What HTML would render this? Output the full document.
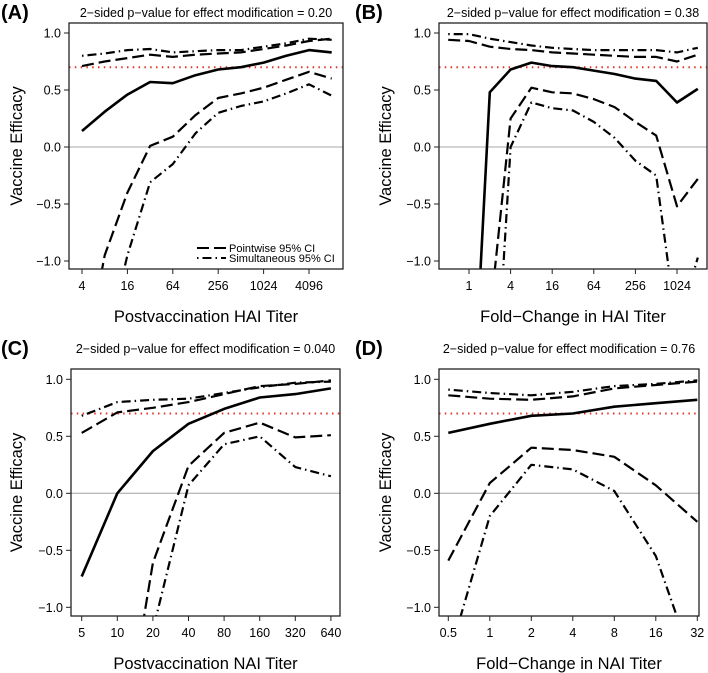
<!DOCTYPE html>
<html><head><meta charset="utf-8"><style>
body{margin:0;background:#fff;overflow:hidden;}
svg{display:block;font-family:"Liberation Sans",Arial,sans-serif;}
</style></head><body>
<svg id="chart" width="708" height="673" viewBox="0 0 708 673" xmlns="http://www.w3.org/2000/svg"></svg>
<script>
// Panel A: Postvaccination HAI titer (log2 x)
const aX = [2,3,4,5,6,7,8,9,10,11,12,13];
const aEst = [0.14,0.31,0.46,0.57,0.56,0.63,0.68,0.70,0.74,0.80,0.85,0.83];
const aUpPw = [0.71,0.75,0.78,0.81,0.79,0.81,0.82,0.83,0.86,0.89,0.93,0.95];
const aUpSim = [0.80,0.82,0.85,0.86,0.83,0.84,0.85,0.85,0.88,0.91,0.95,0.94];
const aLoPw = [-2.0,-0.95,-0.40,0.01,0.09,0.28,0.43,0.47,0.52,0.59,0.66,0.60];
const aLoSim = [-2.5,-1.8,-0.95,-0.31,-0.15,0.12,0.30,0.36,0.40,0.47,0.55,0.45];
const aTicks = ["4","16","64","256","1024","4096"];
const aTickPos = [2,4,6,8,10,12];
// Panel B: Fold-change HAI
const bX = [-1,0,1,2,3,4,5,6,7,8,9,10,11];
const bEst = [-4,-3,0.48,0.68,0.74,0.71,0.70,0.67,0.64,0.60,0.58,0.39,0.51];
const bUpPw = [0.94,0.93,0.88,0.86,0.85,0.83,0.82,0.81,0.80,0.79,0.79,0.75,0.81];
const bUpSim = [0.99,0.99,0.95,0.92,0.89,0.87,0.86,0.85,0.85,0.85,0.85,0.83,0.87];
const bLoPw = [-6,-5,-1.5,0.25,0.52,0.48,0.47,0.42,0.35,0.22,0.10,-0.52,-0.28];
const bLoSim = [-8,-6,-3,0.0,0.39,0.34,0.32,0.22,0.08,-0.12,-0.25,-1.6,-0.97];
const bTicks = ["1","4","16","64","256","1024"];
const bTickPos = [0,2,4,6,8,10];
// Panel C: Postvaccination NAI titer
const cX = [0,1,2,3,4,5,6,7];
const cEst = [-0.73,0.0,0.37,0.61,0.74,0.84,0.87,0.92];
const cUpPw = [0.53,0.71,0.75,0.80,0.87,0.94,0.96,0.99];
const cUpSim = [0.68,0.80,0.82,0.83,0.88,0.93,0.97,0.98];
const cLoPw = [-5,-2.5,-0.61,0.24,0.53,0.62,0.49,0.51];
const cLoSim = [-7,-4,-1.2,0.07,0.43,0.50,0.23,0.15];
const cTicks = ["5","10","20","40","80","160","320","640"];
const cTickPos = [0,1,2,3,4,5,6,7];
// Panel D: Fold-change NAI
const dX = [-1,0,1,2,3,4,5];
const dEst = [0.53,0.61,0.68,0.70,0.76,0.79,0.82];
const dUpPw = [0.86,0.83,0.82,0.85,0.92,0.95,0.98];
const dUpSim = [0.91,0.88,0.86,0.89,0.94,0.96,0.99];
const dLoPw = [-0.59,0.09,0.40,0.38,0.32,0.07,-0.25];
const dLoSim = [-1.45,-0.20,0.25,0.21,0.02,-0.55,-1.59];
const dTicks = ["0.5","1","2","4","8","16","32"];
const dTickPos = [-1,0,1,2,3,4,5];
const yTicks = [-1,-0.5,0,0.5,1];
const yTickLabels = ["\u22121.0","\u22120.5","0.0","0.5","1.0"];

const NS="http://www.w3.org/2000/svg";
const svg=document.getElementById('chart');
function mk(tag,attrs,parent){const e=document.createElementNS(NS,tag);for(const k in attrs)e.setAttribute(k,attrs[k]);(parent||svg).appendChild(e);return e;}

const panels=[
 {id:'a',label:'(A)',title:'2\u2212sided p\u2212value for effect modification = 0.20',xt:'Postvaccination HAI Titer',
  L:69,R:343,T:23,B:269,y0:147,yu:114,x0:82,x0v:2,xu:22.7,ox:0,oy:0,yl:22,xty:322,
  x:aX,s:[aEst,aUpPw,aUpSim,aLoPw,aLoSim],ticks:aTicks,tp:aTickPos,legend:true},
 {id:'b',label:'(B)',title:'2\u2212sided p\u2212value for effect modification = 0.38',xt:'Fold\u2212Change in HAI Titer',
  L:439,R:707,T:23,B:269,y0:147,yu:114,x0:469,x0v:0,xu:20.8,ox:354,oy:0,yl:37,xty:322,
  x:bX,s:[bEst,bUpPw,bUpSim,bLoPw,bLoSim],ticks:bTicks,tp:bTickPos},
 {id:'c',label:'(C)',title:'2\u2212sided p\u2212value for effect modification = 0.040',xt:'Postvaccination NAI Titer',
  L:71,R:340,T:369,B:616,y0:493.3,yu:114,x0:81.7,x0v:0,xu:35.6,ox:0,oy:336,yl:22,xty:669,
  x:cX,s:[cEst,cUpPw,cUpSim,cLoPw,cLoSim],ticks:cTicks,tp:cTickPos},
 {id:'d',label:'(D)',title:'2\u2212sided p\u2212value for effect modification = 0.76',xt:'Fold\u2212Change in NAI Titer',
  L:439,R:699,T:369,B:616,y0:493.3,yu:114,x0:489.8,x0v:0,xu:41.5,ox:354,oy:336,yl:37,xty:669,
  x:dX,s:[dEst,dUpPw,dUpSim,dLoPw,dLoSim],ticks:dTicks,tp:dTickPos}
];
const styles=[
 {w:2.6,da:'',n:'estimate-line'},
 {w:2.2,da:'12,5',n:'upper-pointwise-ci'},
 {w:2.2,da:'1.5,4,9,4',n:'upper-simultaneous-ci'},
 {w:2.2,da:'12,5',n:'lower-pointwise-ci'},
 {w:2.2,da:'1.5,4,9,4',n:'lower-simultaneous-ci'}
];
panels.forEach(p=>{
 const g=mk('g',{});
 
 
 const sx=v=>p.x0+(v-p.x0v)*p.xu;
 const sy=v=>p.y0-v*p.yu;
 const cp=mk('clipPath',{id:'clip-'+p.id},g);
 mk('rect',{x:p.L,y:p.T,width:p.R-p.L,height:p.B-p.T},cp);
 const lab=mk('text',{x:p.ox+1,y:p.oy+19,'font-size':20,'font-weight':'bold'},g);
 lab.textContent=p.label;
 
 
 const tt=mk('text',{x:(p.L+p.R)/2,y:p.oy+17,'font-size':12.5,'text-anchor':'middle'},g);
 tt.textContent=p.title;
 
 
 const zl=mk('line',{x1:p.L,x2:p.R,y1:sy(0),y2:sy(0),stroke:'#bbb','stroke-width':1.3},g);
 
 
 const rl=mk('line',{x1:p.L,x2:p.R,y1:sy(0.7),y2:sy(0.7),stroke:'#e8302a','stroke-width':2,'stroke-dasharray':'1.5,4.3'},g);
 
 
 const lg=mk('g',{'clip-path':'url(#clip-'+p.id+')'},g);
 p.s.forEach((arr,i)=>{
  const pts=arr.map((v,j)=>sx(p.x[j]).toFixed(1)+','+sy(v).toFixed(1)).join(' ');
  const pl=mk('polyline',{points:pts,fill:'none',stroke:'#000','stroke-width':styles[i].w,'stroke-dasharray':styles[i].da,'stroke-linejoin':'round'},lg);
  
  
 });
 const box=mk('rect',{x:p.L,y:p.T,width:p.R-p.L,height:p.B-p.T,fill:'none',stroke:'#222','stroke-width':1.3},g);
 
 
 yTicks.forEach((v,i)=>{
  mk('line',{x1:p.L-5,x2:p.L,y1:sy(v),y2:sy(v),stroke:'#222','stroke-width':1},g);
  const t=mk('text',{x:p.L-8,y:sy(v)+4.5,'font-size':12.5,'text-anchor':'end'},g);
  t.textContent=yTickLabels[i];
  
  
 });
 p.tp.forEach((v,i)=>{
  mk('line',{x1:sx(v),x2:sx(v),y1:p.B,y2:p.B+5,stroke:'#222','stroke-width':1},g);
  const t=mk('text',{x:sx(v),y:p.B+21,'font-size':12.5,'text-anchor':'middle'},g);
  t.textContent=p.ticks[i];
  
  
 });
 const xt=mk('text',{x:(p.L+p.R)/2,y:p.xty,'font-size':16.5,'text-anchor':'middle'},g);
 xt.textContent=p.xt;
 
 
 const ycy=(p.T+p.B)/2;
 const yx=p.ox+p.yl;
 const yt=mk('text',{x:yx,y:ycy,'font-size':16.5,'text-anchor':'middle',transform:'rotate(-90 '+yx+' '+ycy+')'},g);
 yt.textContent='Vaccine Efficacy';
 
 
 if(p.legend){
  const lgd=mk('g',{},g);
  
  
  mk('line',{x1:197,x2:226,y1:248,y2:248,stroke:'#000','stroke-width':2,'stroke-dasharray':'12,5'},lgd);
  mk('line',{x1:197,x2:226,y1:258,y2:258,stroke:'#000','stroke-width':2,'stroke-dasharray':'1.5,4,9,4'},lgd);
  const t1=mk('text',{x:229,y:252,'font-size':11},lgd);
  t1.textContent='Pointwise 95% CI';
  
  
  const t2=mk('text',{x:229,y:262,'font-size':11},lgd);
  t2.textContent='Simultaneous 95% CI';
  
  
 }
});
</script>
</body></html>
